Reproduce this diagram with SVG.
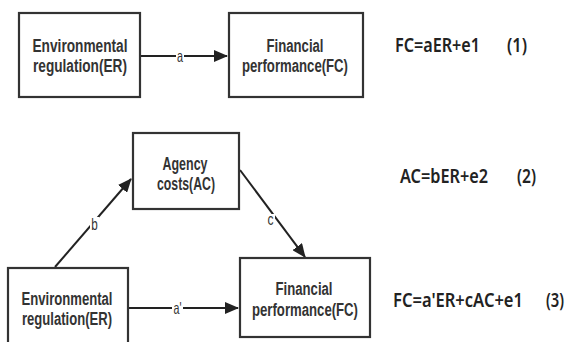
<svg xmlns="http://www.w3.org/2000/svg" width="574" height="342" viewBox="0 0 574 342">
<defs>
<marker id="arr" markerWidth="14" markerHeight="12" refX="13" refY="6" orient="auto" markerUnits="userSpaceOnUse" viewBox="0 0 14 12">
<path d="M0,0 L14,6 L0,12 Z" fill="#222"/>
</marker>
<style>
.box{fill:#fff;stroke:#333;stroke-width:2.2}
.t{font-family:"Liberation Sans",Arial,sans-serif;font-size:17.5px;font-weight:bold;fill:#333;text-anchor:middle}
.eq{font-family:"Noto Sans","Open Sans",sans-serif;font-size:19.5px;font-weight:600;fill:#222}
.ln{stroke:#222;stroke-width:2;fill:none}
.lb{font-family:"Liberation Sans",Arial,sans-serif;font-size:16.5px;fill:#333;text-anchor:middle}
.bg{fill:#fff}
</style>
</defs>
<rect width="574" height="342" fill="#fff"/>
<g id="connectors">
<line class="ln" x1="140" y1="56" x2="227" y2="56" marker-end="url(#arr)"/>
<rect class="bg" x="176" y="49" width="8" height="14"/>
<text class="lb" x="180" y="62" textLength="6" lengthAdjust="spacingAndGlyphs">a</text>
<line class="ln" x1="55" y1="267" x2="131" y2="179" marker-end="url(#arr)"/>
<rect class="bg" x="90" y="217" width="9" height="14"/>
<text class="lb" x="94.5" y="230" textLength="6.5" lengthAdjust="spacingAndGlyphs">b</text>
<line class="ln" x1="240" y1="170" x2="305" y2="257" marker-end="url(#arr)"/>
<rect class="bg" x="266" y="214" width="9" height="12"/>
<text class="lb" x="270.5" y="225" textLength="6" lengthAdjust="spacingAndGlyphs">c</text>
<line class="ln" x1="129" y1="308" x2="238" y2="308" marker-end="url(#arr)"/>
<rect class="bg" x="172" y="301" width="11" height="14"/>
<text class="lb" x="177.5" y="314" textLength="8" lengthAdjust="spacingAndGlyphs">a'</text>
</g>
<g id="er1">
<rect class="box" x="19" y="13" width="121" height="84"/>
<text class="t" x="80" y="52" textLength="95" lengthAdjust="spacingAndGlyphs">Environmental</text>
<text class="t" x="80" y="72" textLength="94" lengthAdjust="spacingAndGlyphs">regulation(ER)</text>
</g>
<g id="fc1">
<rect class="box" x="229" y="13" width="134" height="84"/>
<text class="t" x="295" y="52" textLength="57" lengthAdjust="spacingAndGlyphs">Financial</text>
<text class="t" x="295" y="72" textLength="106" lengthAdjust="spacingAndGlyphs">performance(FC)</text>
</g>
<g id="ac">
<rect class="box" x="133" y="133" width="106" height="76"/>
<text class="t" x="185" y="170" textLength="45" lengthAdjust="spacingAndGlyphs">Agency</text>
<text class="t" x="186" y="190" textLength="58" lengthAdjust="spacingAndGlyphs">costs(AC)</text>
</g>
<g id="er2">
<rect class="box" x="8" y="268" width="120" height="84"/>
<text class="t" x="67" y="305" textLength="91" lengthAdjust="spacingAndGlyphs">Environmental</text>
<text class="t" x="67" y="325" textLength="90" lengthAdjust="spacingAndGlyphs">regulation(ER)</text>
</g>
<g id="fc2">
<rect class="box" x="240" y="258" width="130" height="79"/>
<text class="t" x="304" y="295" textLength="57" lengthAdjust="spacingAndGlyphs">Financial</text>
<text class="t" x="305" y="316" textLength="106" lengthAdjust="spacingAndGlyphs">performance(FC)</text>
</g>
<g id="equations">
<text class="eq" x="395" y="52" textLength="85" lengthAdjust="spacingAndGlyphs">FC=aER+e1</text>
<text class="eq" x="507" y="52" textLength="20" lengthAdjust="spacingAndGlyphs">(1)</text>
<text class="eq" x="400" y="183" textLength="88" lengthAdjust="spacingAndGlyphs">AC=bER+e2</text>
<text class="eq" x="517" y="183" textLength="19" lengthAdjust="spacingAndGlyphs">(2)</text>
<text class="eq" x="393" y="307" textLength="130" lengthAdjust="spacingAndGlyphs">FC=a'ER+cAC+e1</text>
<text class="eq" x="546" y="307" textLength="18" lengthAdjust="spacingAndGlyphs">(3)</text>
</g>
</svg>
